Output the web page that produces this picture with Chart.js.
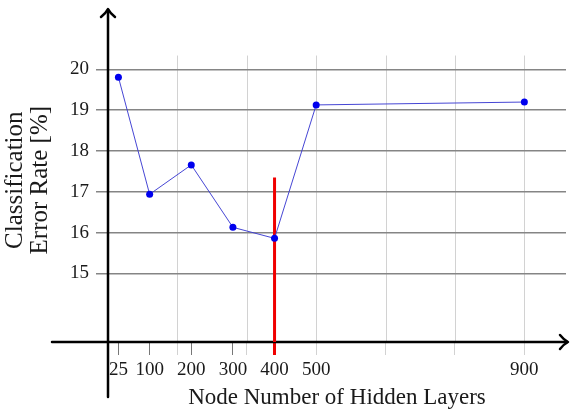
<!DOCTYPE html>
<html>
<head>
<meta charset="utf-8">
<script src="https://cdn.jsdelivr.net/npm/chart.js@4.4.1/dist/chart.umd.min.js"></script>
<style>
body { margin: 0; background: #fff; }
</style>
</head>
<body>
<canvas id="grafica" width="570" height="415"></canvas>
<script>
// valores
var nodes = [25, 100, 200, 300, 400, 500, 900];
var nodeLabels = ["25", "100", "200", "300", "400", "500", "900"];
var errorRate = [19.81, 16.94, 17.66, 16.13, 15.86, 19.13, 19.2];
var yTicks = [15, 16, 17, 18, 19, 20];
var markerNode = 400;
var markerTop = 17.35;

var yMin = 13.32, yMax = 21.25, gridTop = 20.34;
var xMin = 0, xMax = 980;

// el eje x esta estirado despues de 500 (900 cae donde iria 1000)
var BREAK = 500, STRETCH = 1.25;
function stretch(v) { return v <= BREAK ? v : BREAK + (v - BREAK) * STRETCH; }
function unstretch(u) { return u <= BREAK ? u : BREAK + (u - BREAK) / STRETCH; }

class StretchedScale extends Chart.LinearScale {
  configure() {
    super.configure();
    this._startValue = stretch(this.min);
    this._valueRange = stretch(this.max) - stretch(this.min);
  }
  getPixelForValue(value) {
    return super.getPixelForValue(stretch(value));
  }
  getValueForPixel(pixel) {
    return unstretch(super.getValueForPixel(pixel));
  }
}
StretchedScale.id = 'stretched';
StretchedScale.defaults = Chart.LinearScale.defaults;
Chart.register(StretchedScale);

// lineas verticales de la cuadricula: 6 divisiones hasta 900
var gridValues = [];
for (var i = 1; i <= 6; i++) gridValues.push(unstretch(i * stretch(900) / 6));

function isGrid(v) { return gridValues.some(function(g) { return Math.abs(g - v) < 0.01; }); }
function isNode(v) { return nodes.indexOf(v) >= 0; }

var xTickValues = nodes.slice();
gridValues.forEach(function(g) { if (!isNode(g)) xTickValues.push(g); });
xTickValues.sort(function(a, b) { return a - b; });

var AXIS = '#000';
var GRID_H = '#858585';
var GRID_V = '#d2d2d2';
var RED = '#f00000';

var ejes = {
  id: 'ejes',
  beforeDraw: function(chart) {
    var ctx = chart.ctx, xs = chart.scales.x, ys = chart.scales.y;
    ctx.save();
    ctx.fillStyle = '#fff';
    ctx.fillRect(0, 0, chart.width, chart.height);
    ctx.strokeStyle = GRID_V;
    ctx.lineWidth = 1;
    gridValues.forEach(function(g) {
      var px = Math.round(xs.getPixelForValue(g)) + 0.5;
      ctx.beginPath();
      ctx.moveTo(px, ys.getPixelForValue(gridTop));
      ctx.lineTo(px, chart.chartArea.bottom);
      ctx.stroke();
    });
    ctx.restore();
  },
  beforeDatasetsDraw: function(chart) {
    var ctx = chart.ctx, xs = chart.scales.x, area = chart.chartArea;
    var x0 = xs.getPixelForValue(0), y0 = area.bottom;
    ctx.save();
    ctx.strokeStyle = AXIS;
    ctx.lineWidth = 2.5;
    ctx.lineCap = 'round';
    ctx.lineJoin = 'round';
    // eje x
    ctx.beginPath();
    ctx.moveTo(52, y0);
    ctx.lineTo(567, y0);
    ctx.stroke();
    ctx.beginPath();
    ctx.moveTo(560, y0 - 7);
    ctx.quadraticCurveTo(564, y0 - 2, 568, y0);
    ctx.quadraticCurveTo(564, y0 + 2, 560, y0 + 7);
    ctx.stroke();
    // eje y
    ctx.beginPath();
    ctx.moveTo(x0, 397);
    ctx.lineTo(x0, 10);
    ctx.stroke();
    ctx.beginPath();
    ctx.moveTo(x0 - 7, 17);
    ctx.quadraticCurveTo(x0 - 2, 13, x0, 9);
    ctx.quadraticCurveTo(x0 + 2, 13, x0 + 7, 17);
    ctx.stroke();
    ctx.restore();
  }
};

Chart.defaults.font.family = "'Liberation Serif', 'DejaVu Serif', serif";
Chart.defaults.color = '#1a1a1a';

var ctx = document.getElementById("grafica").getContext("2d");
var chart = new Chart(ctx, {
  type: 'line',
  data: {
    datasets: [{
      label: 'Error',
      data: nodes.map(function(n, i) { return {x: n, y: errorRate[i]}; }),
      borderColor: 'rgba(60, 60, 210, 0.95)',
      borderWidth: 1,
      pointRadius: 3.5,
      pointBorderWidth: 0,
      pointBackgroundColor: '#0000ee',
      pointBorderColor: '#0000ee',
      tension: 0,
      order: 0
    }, {
      label: 'Marca',
      data: [{x: markerNode, y: yMin}, {x: markerNode, y: markerTop}],
      borderColor: RED,
      borderWidth: 3,
      pointRadius: 0,
      order: 1
    }]
  },
  options: {
    responsive: false,
    animation: false,
    layout: { padding: { top: 12, right: 4, left: 0, bottom: 0 } },
    plugins: {
      legend: { display: false },
      tooltip: { enabled: false }
    },
    scales: {
      x: {
        type: 'stretched',
        min: xMin,
        max: xMax,
        afterFit: function(scale) { scale.height = 73; },
        afterBuildTicks: function(scale) {
          scale.ticks = xTickValues.map(function(v) { return {value: v}; });
        },
        border: { display: false },
        grid: {
          drawOnChartArea: false,
          drawTicks: true,
          tickLength: 13,
          tickColor: function(c) {
            var v = c.tick ? c.tick.value : 0;
            if (v === markerNode) return RED;
            return isGrid(v) ? GRID_V : '#777';
          },
          tickWidth: function(c) {
            return c.tick && c.tick.value === markerNode ? 3 : 1;
          }
        },
        ticks: {
          autoSkip: false,
          maxRotation: 0,
          padding: 4,
          font: { size: 19 },
          callback: function(v) {
            var k = nodes.indexOf(v);
            return k >= 0 ? nodeLabels[k] : '';
          }
        },
        title: {
          display: true,
          text: 'Node Number of Hidden Layers',
          font: { size: 23 },
          padding: { top: 0, bottom: 3 }
        }
      },
      y: {
        min: yMin,
        max: yMax,
        afterFit: function(scale) { scale.width = 108; },
        afterBuildTicks: function(scale) {
          scale.ticks = yTicks.map(function(v) { return {value: v}; });
        },
        border: { display: false },
        grid: {
          color: GRID_H,
          lineWidth: 1.5,
          tickColor: GRID_H,
          tickLength: 12
        },
        ticks: {
          padding: 7,
          font: { size: 19 }
        },
        title: {
          display: true,
          text: ['Classification', 'Error Rate [%]'],
          font: { size: 25, lineHeight: 1.0 },
          padding: { top: 3, bottom: 0 }
        }
      }
    }
  },
  plugins: [ejes]
});
</script>
</body>
</html>
